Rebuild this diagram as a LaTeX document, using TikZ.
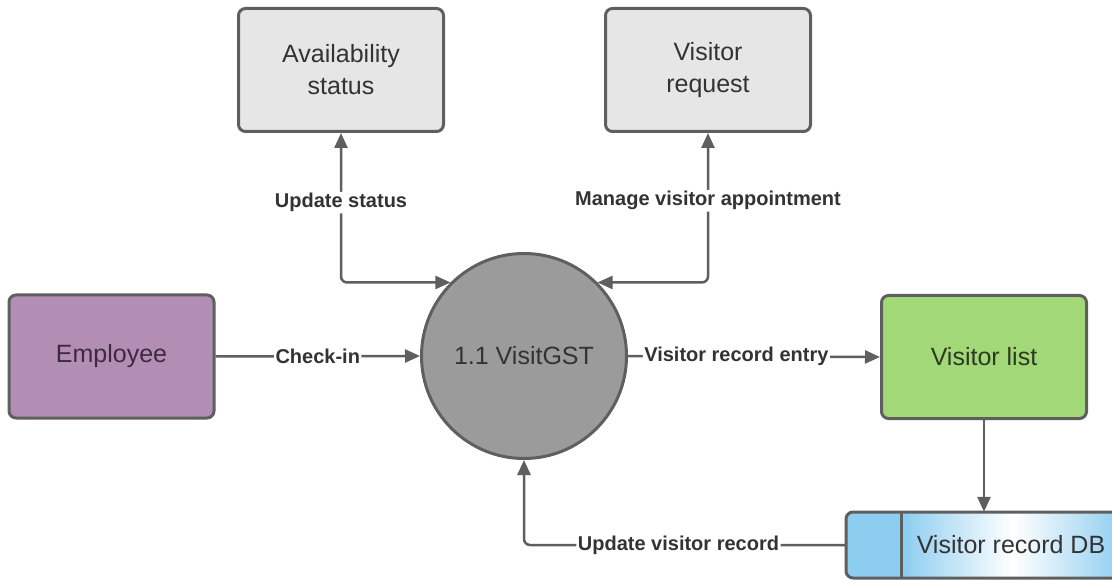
\documentclass[tikz,border=0pt]{standalone}
\usepackage{fontspec}
\setmainfont{Liberation Sans}
\usetikzlibrary{arrows.meta,shapes.geometric}
\definecolor{edge}{HTML}{5F5F5F}
\definecolor{graybox}{HTML}{E6E6E6}
\definecolor{circfill}{HTML}{9B9B9B}
\definecolor{empfill}{HTML}{B28DB4}
\definecolor{emptext}{HTML}{3E2A40}
\definecolor{listfill}{HTML}{A3D878}
\definecolor{listtext}{HTML}{2C3A22}
\definecolor{dbblue}{HTML}{8DCDF0}
\definecolor{txt}{HTML}{333333}
\tikzset{
  box/.style={draw=edge, line width=3pt, rounded corners=7pt, minimum width=205pt, minimum height=123pt, align=center, font=\fontsize{25}{32}\selectfont, text=txt},
  proc/.style={circle, draw=edge, line width=3pt, fill=circfill, minimum size=205pt, font=\fontsize{25}{30}\selectfont, text=txt},
  flow/.style={draw=edge, line width=2.5pt, rounded corners=6pt, -{Triangle[length=15pt,width=13pt]}},
  bflow/.style={draw=edge, line width=2.5pt, rounded corners=6pt, {Triangle[length=15pt,width=13pt]}-{Triangle[length=15pt,width=13pt]}},
  lbl/.style={fill=white, inner sep=1.5pt, font=\fontsize{20}{22}\selectfont\bfseries, text=txt}
}
\begin{document}
\begin{tikzpicture}[x=1pt,y=-1pt]
\useasboundingbox[fill=white] (0,0) rectangle (1112,580);
% nodes
\node[box, fill=graybox] (avail) at (341,70) {Availability\\status};
\node[box, fill=graybox] (vreq) at (708,70) {Visitor\\request};
\node[box, fill=empfill, text=emptext] (emp) at (111.5,356.5) {Employee};
\node[box, fill=listfill, text=listtext] (vlist) at (984,357) {Visitor list};
\node[proc] (circ) at (524,356) {1.1 VisitGST};
% data store
\shade[left color=dbblue, right color=dbblue, middle color=white, rounded corners=7pt] (901,512) rectangle (1125,578);
\fill[dbblue, rounded corners=7pt] (846,512) rectangle (910,578);
\draw[edge, line width=3pt, rounded corners=7pt] (846,512) rectangle (1125,578);
\draw[edge, line width=3pt] (901,512) -- (901,578);
\node[minimum width=279pt, minimum height=66pt, inner sep=0pt] (db) at (985.5,545) {};
\node[font=\fontsize{25}{30}\selectfont, text=txt] (dbtext) at (1011,545) {Visitor record DB};
% connectors
\draw[bflow] (avail.south) |- (circ.north west) node[lbl, pos=0.233] {Update status};
\draw[bflow] (vreq.south) |- (circ.north east) node[lbl, pos=0.227] {Manage visitor appointment};
\draw[flow] (emp.east) -- (circ.west) node[lbl, pos=0.5] {Check-in};
\draw[flow] (circ.east) -- (vlist.west) node[lbl, pos=0.43] {Visitor record entry};
\draw[flow] (vlist.south) -- (vlist.south |- db.north);
\draw[flow] (db.west) -| (circ.south) node[lbl, pos=0.26] {Update visitor record};
\end{tikzpicture}
\end{document}
